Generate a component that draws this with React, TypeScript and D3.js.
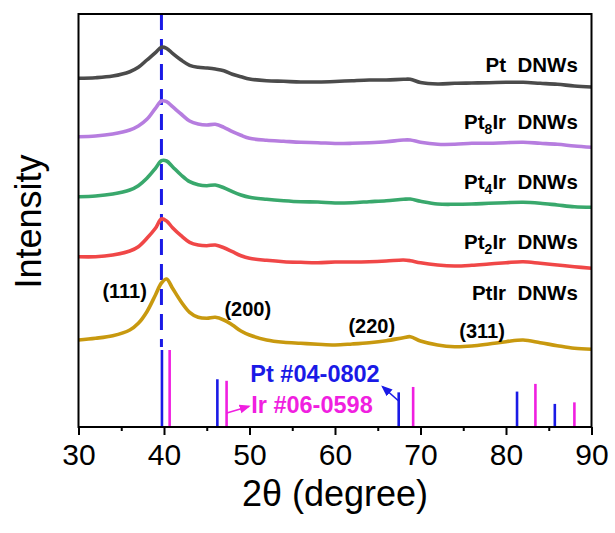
import React, { useEffect, useRef } from 'react';
import * as d3 from 'd3';

// 2θ grid the patterns were read at
const twoTheta = [30, 32, 34, 36, 37, 38, 39, 39.7, 40.3, 41, 42, 43, 44, 45, 46, 47, 48, 49, 50, 52, 54, 56, 58, 60, 62, 64, 66, 68, 68.8, 70, 72, 74, 76, 78, 80, 82, 84, 86, 88, 90];

// intensities (a.u.), each pattern before stacking
const ptDNWs = [28.7, 29.3, 31, 35.3, 39.7, 47, 54.3, 59.7, 58.7, 53.7, 47, 41.7, 39.7, 39, 38, 36.3, 32.7, 30.3, 28, 26.3, 25.7, 25, 25, 25.5, 26.3, 27, 27, 27.7, 27.7, 24.5, 23, 23.7, 24, 24.3, 24.7, 24.7, 23.7, 22.7, 21, 20];
const pt8IrDNWs = [30.3, 31, 33, 37, 41, 47.7, 58.7, 66, 65.3, 60.3, 53, 46, 43, 42, 42.7, 39.7, 35.3, 31.7, 28.7, 26.7, 25.7, 24.7, 24.3, 23.5, 23.7, 24.3, 25.3, 27, 27, 24.8, 22.7, 22.7, 23.7, 23.7, 24.3, 24.7, 23.7, 22.7, 21, 19.7];
const pt4IrDNWs = [30.3, 31, 33, 37, 41.3, 48.7, 58.7, 66.3, 66, 60.3, 52, 45.3, 42.3, 41.3, 42, 39.3, 35.3, 32, 29.7, 27.7, 26.3, 25.3, 25, 24, 24.3, 25.3, 26.3, 27.7, 28, 25.8, 23, 22.7, 23, 23.7, 24.3, 24.7, 23.7, 22, 20.3, 19.7];
const pt2IrDNWs = [30.3, 30.3, 32, 36, 40.3, 48.7, 58.7, 68, 66, 59.3, 51.3, 44.7, 42, 41.3, 42, 39.3, 35.3, 31.3, 28.7, 26.7, 25.3, 24.7, 24.3, 25, 25, 25.3, 26, 27, 26.3, 24.2, 22, 21, 21.7, 23, 24.3, 25.3, 23.7, 22, 20.3, 18.7];
const ptIrDNWs = [27, 28.7, 31.3, 37, 43.7, 55.3, 72, 84, 88, 78.7, 65.3, 54.7, 49.7, 48.7, 49.7, 47, 42, 36, 32, 27, 24.7, 23.7, 22.7, 22, 23, 24.3, 26.3, 29.3, 30.3, 26, 22, 20.3, 21, 23, 25.3, 27, 24.3, 21.3, 18.7, 17.7];

const patterns = [ptDNWs, pt8IrDNWs, pt4IrDNWs, pt2IrDNWs, ptIrDNWs];
const offsets = [320, 260, 200, 140, 60];
const sampleLabels = ['Pt  DNWs', 'Pt_8Ir  DNWs', 'Pt_4Ir  DNWs', 'Pt_2Ir  DNWs', 'PtIr  DNWs'];
const labelLevels = [355, 298, 238, 178, 127];
const colors = ['#4b4b4b', '#b67ddf', '#39a86c', '#f04747', '#c8990f'];

// standard cards (relative intensity)
const ptCardAngles = [39.76, 46.24, 67.45, 81.29, 85.71];
const ptCardIntensity = [100, 62, 45, 46, 30];
const irCardAngles = [40.66, 47.32, 69.14, 83.44, 88.0];
const irCardIntensity = [100, 60, 52, 56, 32];

const planes = ['(111)', '(200)', '(220)', '(311)'];
const planeAngles = [35.4, 49.8, 64.3, 77.2];
const planeLevels = [129, 111, 94, 89];

const majorTicks = [30, 40, 50, 60, 70, 80, 90];
const minorTicks = [35, 45, 55, 65, 75, 85];

const W = 615;
const H = 533;
const margin = { top: 14, right: 23.5, bottom: 106, left: 78.5 };
const FONT = '"Liberation Sans", Arial, sans-serif';
const BLUE = '#1a1ae6';
const MAGENTA = '#f01fe0';

const App = () => {
  const svgRef = useRef<SVGSVGElement>(null);

  useEffect(() => {
    const svg = d3.select(svgRef.current);
    svg.selectAll('*').remove();

    const x = d3.scaleLinear().domain([30, 90]).range([margin.left, W - margin.right]);
    const y = d3.scaleLinear().domain([0, 413]).range([H - margin.bottom, margin.top]);
    const yRef = d3.scaleLinear().domain([0, 100]).range([y(0), y(77)]);

    const defs = svg.append('defs');
    [['arrBlue', BLUE], ['arrMag', MAGENTA]].forEach(([id, c]) => {
      defs.append('marker')
        .attr('id', id)
        .attr('viewBox', '0 0 10 10')
        .attr('refX', 8).attr('refY', 5)
        .attr('markerWidth', 7).attr('markerHeight', 7)
        .attr('orient', 'auto')
        .append('path')
        .attr('d', 'M0,1 L10,5 L0,9 Z')
        .attr('fill', c);
    });

    // reference dashed line at Pt(111)
    svg.append('line')
      .attr('x1', x(39.7)).attr('x2', x(39.7))
      .attr('y1', y(413)).attr('y2', y(80))
      .attr('stroke', BLUE)
      .attr('stroke-width', 3)
      .attr('stroke-dasharray', '16,9');

    const line = d3.line<number>()
      .x((d, i) => x(twoTheta[i]))
      .curve(d3.curveCatmullRom.alpha(0.5));

    patterns.forEach((p, k) => {
      svg.append('path')
        .datum(p)
        .attr('fill', 'none')
        .attr('stroke', colors[k])
        .attr('stroke-width', 3.6)
        .attr('stroke-linejoin', 'round')
        .attr('d', line.y(d => y(d + offsets[k])));
    });

    // sample labels with subscripts
    sampleLabels.forEach((lab, k) => {
      const t = svg.append('text')
        .attr('x', x(88.4)).attr('y', y(labelLevels[k]))
        .attr('text-anchor', 'end')
        .attr('font-family', FONT)
        .attr('font-weight', 'bold')
        .attr('font-size', 20.5)
        .style('white-space', 'pre');
      const m = lab.match(/^(Pt)_(\d)(.*)$/);
      if (m) {
        t.append('tspan').text(m[1]);
        t.append('tspan').attr('font-size', 14).attr('dy', 5).text(m[2]);
        t.append('tspan').attr('dy', -5).text(m[3]);
      } else {
        t.text(lab);
      }
    });

    planes.forEach((pl, k) => {
      svg.append('text')
        .attr('x', x(planeAngles[k])).attr('y', y(planeLevels[k]))
        .attr('text-anchor', 'middle')
        .attr('font-family', FONT)
        .attr('font-weight', 'bold')
        .attr('font-size', 20)
        .text(pl);
    });

    // stick patterns
    const sticks = (angles: number[], vals: number[], c: string) => {
      svg.append('g').selectAll('line')
        .data(angles)
        .join('line')
        .attr('x1', d => x(d)).attr('x2', d => x(d))
        .attr('y1', yRef(0))
        .attr('y2', (d, i) => yRef(vals[i]))
        .attr('stroke', c)
        .attr('stroke-width', 2.6);
    };
    sticks(ptCardAngles, ptCardIntensity, BLUE);
    sticks(irCardAngles, irCardIntensity, MAGENTA);

    svg.append('text')
      .attr('x', x(50.1)).attr('y', y(45))
      .attr('font-family', FONT).attr('font-weight', 'bold').attr('font-size', 23.5)
      .attr('fill', BLUE)
      .text('Pt #04-0802');
    svg.append('text')
      .attr('x', x(50.2)).attr('y', y(14))
      .attr('font-family', FONT).attr('font-weight', 'bold').attr('font-size', 23.5)
      .attr('fill', MAGENTA)
      .text('Ir #06-0598');

    svg.append('line')
      .attr('x1', x(67.45)).attr('y1', y(26))
      .attr('x2', x(65.6)).attr('y2', y(40))
      .attr('stroke', BLUE).attr('stroke-width', 1.6)
      .attr('marker-end', 'url(#arrBlue)');
    svg.append('line')
      .attr('x1', x(47.35)).attr('y1', y(14))
      .attr('x2', x(49.9)).attr('y2', y(20.5))
      .attr('stroke', MAGENTA).attr('stroke-width', 1.6)
      .attr('marker-end', 'url(#arrMag)');

    // axes
    const gx = svg.append('g')
      .attr('transform', `translate(0,${y(0)})`)
      .call(d3.axisBottom(x).tickValues(majorTicks).tickSize(8).tickPadding(9).tickFormat(d3.format('d')));
    gx.select('.domain').remove();
    gx.selectAll('line').attr('stroke', '#000').attr('stroke-width', 2);
    gx.selectAll('text').attr('font-family', FONT).attr('font-size', 30).attr('fill', '#000');

    const gm = svg.append('g')
      .attr('transform', `translate(0,${y(0)})`)
      .call(d3.axisBottom(x).tickValues(minorTicks).tickSize(4).tickFormat(() => ''));
    gm.select('.domain').remove();
    gm.selectAll('line').attr('stroke', '#000').attr('stroke-width', 2);

    svg.append('rect')
      .attr('x', x(30)).attr('y', y(413))
      .attr('width', x(90) - x(30)).attr('height', y(0) - y(413))
      .attr('fill', 'none')
      .attr('stroke', '#000')
      .attr('stroke-width', 2);

    svg.append('text')
      .attr('x', (x(30) + x(90)) / 2).attr('y', 506)
      .attr('text-anchor', 'middle')
      .attr('font-family', FONT).attr('font-size', 36)
      .text('2θ (degree)');

    svg.append('text')
      .attr('transform', `translate(41,${(y(0) + y(413)) / 2 + 1}) rotate(-90)`)
      .attr('text-anchor', 'middle')
      .attr('font-family', FONT).attr('font-size', 36)
      .text('Intensity');
  }, []);

  return (
    <svg ref={svgRef} width={W} height={H} style={{ position: 'absolute', left: 0, top: 0, background: '#fff' }}></svg>
  );
};

export default App;
